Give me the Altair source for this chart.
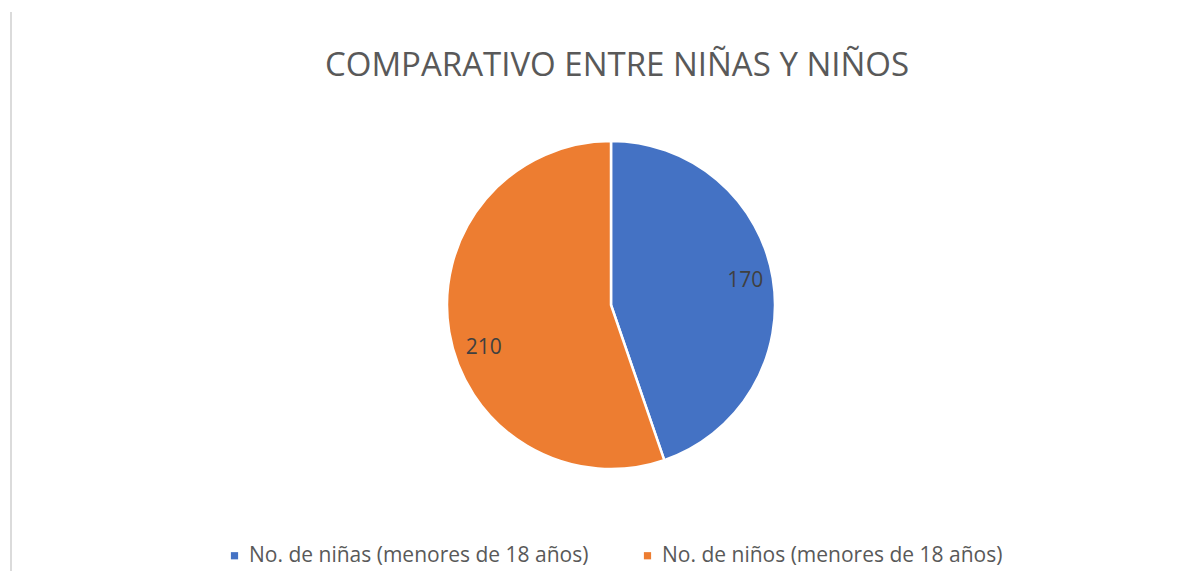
import altair as alt
import pandas as pd
import math

title_text = "COMPARATIVO ENTRE NIÑAS Y NIÑOS"
categories = ["No. de niñas (menores de 18 años)", "No. de niños (menores de 18 años)"]
values = [170, 210]
colors = ["#4472C4", "#ED7D31"]

df = pd.DataFrame({"cat": categories, "val": values, "order": [0, 1]})
TOTAL = sum(values)

FONT = "Open Sans"
CX, CY = 603, 297

pie = alt.Chart(df).mark_arc(outerRadius=164, stroke="white", strokeWidth=2.5).encode(
    theta=alt.Theta("val:Q", stack=True),
    order=alt.Order("order:Q"),
    x=alt.value(CX), y=alt.value(CY),
    color=alt.Color(
        "cat:N",
        scale=alt.Scale(domain=categories, range=colors),
        legend=alt.Legend(
            title=None, orient="none", direction="horizontal",
            legendX=216, legendY=537,
            symbolType="square", symbolSize=52, symbolStrokeWidth=0,
            labelFont=FONT, labelFontSize=21, labelColor="#595959",
            labelLimit=0, columnPadding=48, symbolOffset=0, labelOffset=4,
        ),
    ),
)

lab_base = alt.Chart(df).transform_window(
    cum="sum(val)", sort=[alt.SortField("order")]
).transform_calculate(
    mid="datum.cum - datum.val / 2"
).encode(
    theta=alt.Theta("mid:Q", stack=None,
                    scale=alt.Scale(domain=[0, TOTAL], range=[0, 2 * math.pi])),
    x=alt.value(CX), y=alt.value(CY),
    text=alt.Text("val:Q"),
)

labels1 = lab_base.mark_text(radius=136, font=FONT, fontSize=21, color="#404040", dy=-2).transform_filter(
    alt.datum.order == 0
)
labels2 = lab_base.mark_text(radius=136, font=FONT, fontSize=21, color="#404040", dx=7, dy=21).transform_filter(
    alt.datum.order == 1
)

title = alt.Chart(pd.DataFrame({"t": [title_text]})).mark_text(
    font=FONT, fontSize=33, color="#595959", baseline="middle", align="center"
).encode(x=alt.value(609), y=alt.value(58), text="t:N")

border = alt.Chart(df).mark_rule(color="#d9d9d9", strokeWidth=1.5).encode(
    x=alt.value(3), y=alt.value(4), y2=alt.value(563)
)

chart = alt.layer(border, pie, labels1, labels2, title).properties(
    width=1182, height=563,
    padding=0,
    autosize=alt.AutoSizeParams(type="none"),
).configure_view(stroke=None)

chart.save("out.html", embed_options={"renderer": "svg", "actions": False})
